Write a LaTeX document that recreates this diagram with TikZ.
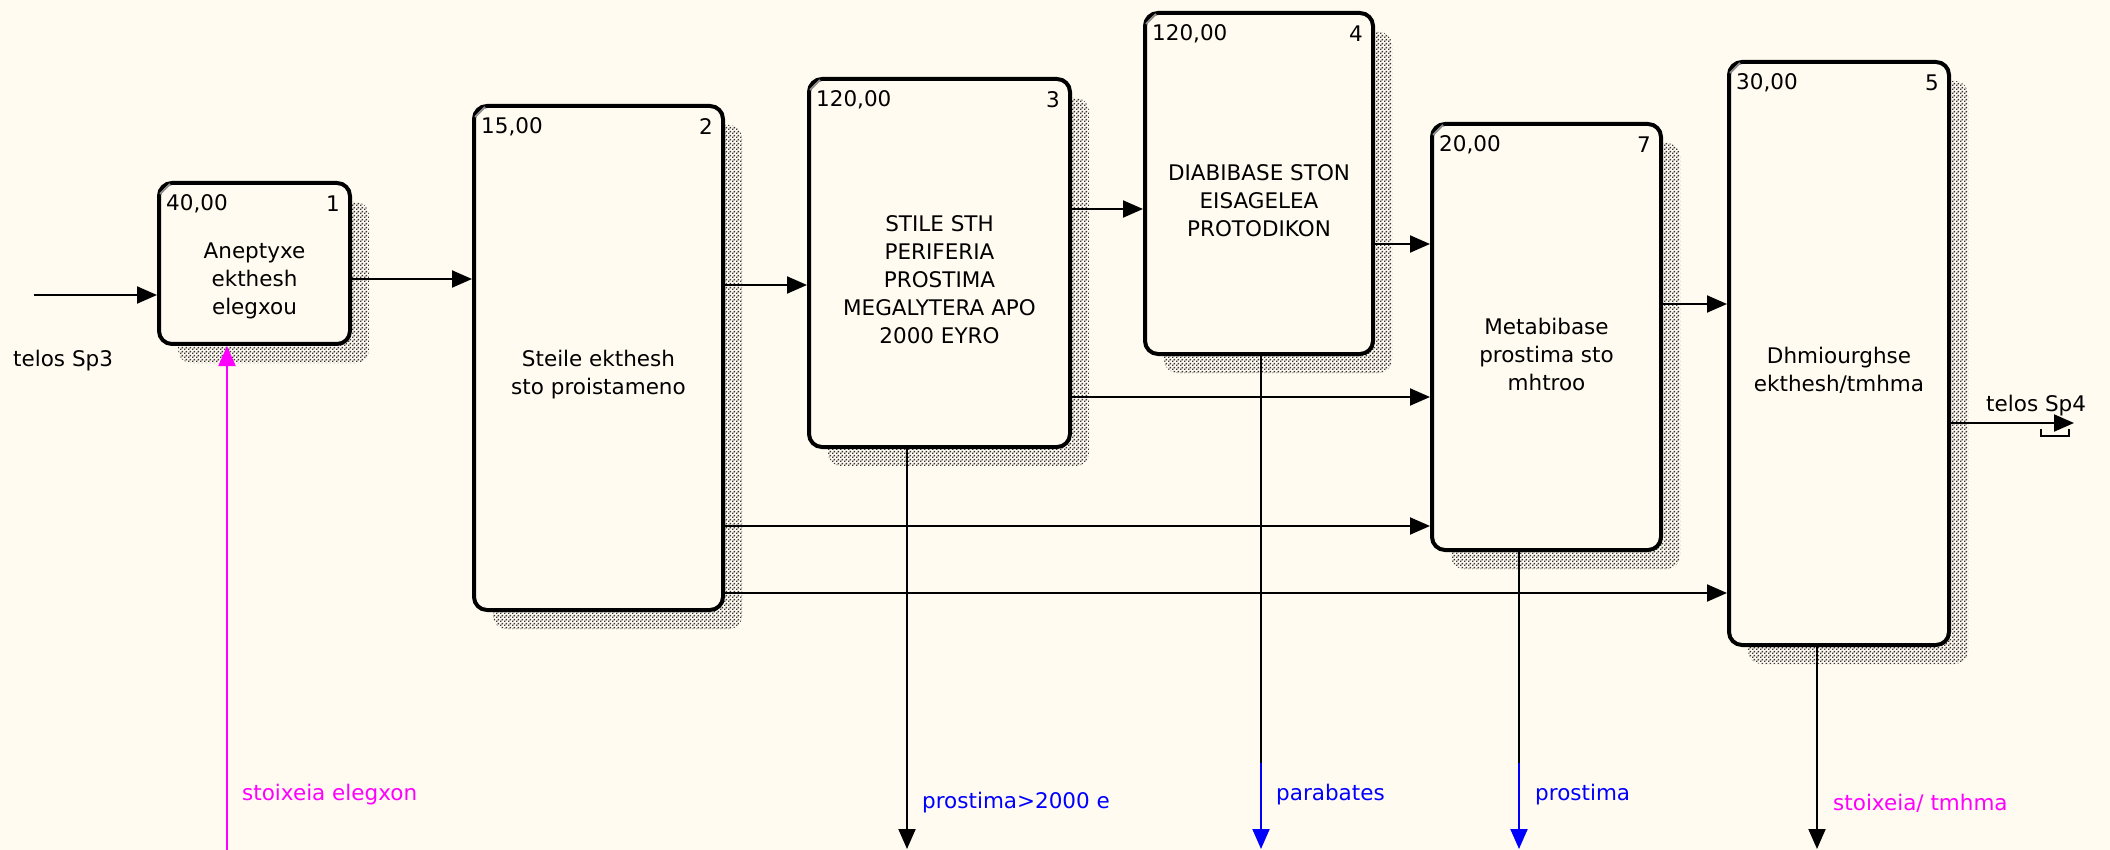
\documentclass[tikz,border=0pt]{standalone}
\usepackage{fontspec}
\setmainfont{DejaVu Sans}
\usetikzlibrary{arrows.meta,shadows,patterns}
\definecolor{bg}{RGB}{255,251,240}
\definecolor{mag}{RGB}{255,0,255}
\definecolor{blu}{RGB}{0,0,255}
\pgfdeclarepatternformonly{shdots}{\pgfpointorigin}{\pgfqpoint{4pt}{4pt}}{\pgfqpoint{4pt}{4pt}}{%
  \pgfpathrectangle{\pgfpointorigin}{\pgfqpoint{1.8pt}{1.8pt}}%
  \pgfpathrectangle{\pgfqpoint{2pt}{2pt}}{\pgfqpoint{1.8pt}{1.8pt}}%
  \pgfusepath{fill}}
\begin{document}
\begin{tikzpicture}[x=1pt,y=-1pt,
  font=\fontsize{21.5}{28}\selectfont,
  box/.style={draw=black, line width=4pt, rounded corners=13pt, fill=bg, inner sep=0pt,
    general shadow={shadow xshift=19pt, shadow yshift=-19pt, pattern=shdots, pattern color=black!80}},
  txt/.style={align=center, inner sep=0pt},
  num/.style={inner sep=0pt},
  conn/.style={line width=2pt, -{Triangle[length=20pt,width=17pt]}},
  plain/.style={line width=2pt},
  lbl/.style={inner sep=0pt, anchor=west},
  corner/.style={black!45, line width=2pt}]
\fill[bg] (0,0) rectangle (2110,850);
\useasboundingbox (0,0) rectangle (2110,850);

% boxes
\node[box, minimum width=191pt, minimum height=161pt] (b1) at (254.5,263.5) {};
\node[box, minimum width=249pt, minimum height=504pt] (b2) at (598.5,358) {};
\node[box, minimum width=261pt, minimum height=368pt] (b3) at (939.5,263) {};
\node[box, minimum width=228pt, minimum height=341pt] (b4) at (1259,183.5) {};
\node[box, minimum width=229pt, minimum height=426pt] (b7) at (1546.5,337) {};
\node[box, minimum width=220pt, minimum height=583pt] (b5) at (1839,353.5) {};

\foreach \b in {b1,b2,b3,b4,b7,b5}
  \draw[corner] ([shift={(3,13)}]\b.north west) -- ([shift={(13,3)}]\b.north west);

% texts
\node[txt] (t1) at ([yshift=-17pt]b1.center) {Aneptyxe\\ekthesh\\elegxou};
\node[txt] (t2) at ([yshift=-17pt]b2.center) {Steile ekthesh\\sto proistameno};
\node[txt] (t3) at ([yshift=-17pt]b3.center) {STILE STH\\PERIFERIA\\PROSTIMA\\MEGALYTERA APO\\2000 EYRO};
\node[txt] (t4) at ([yshift=-17pt]b4.center) {DIABIBASE STON\\EISAGELEA\\PROTODIKON};
\node[txt] (t7) at ([yshift=-17pt]b7.center) {Metabibase\\prostima sto\\mhtroo};
\node[txt] (t5) at ([yshift=-17pt]b5.center) {Dhmiourghse\\ekthesh/tmhma};

% cost and number
\node[num, anchor=west] (c1) at ([shift={(9,23)}]b1.north west) {40,00};
\node[num, anchor=east] (n1) at ([shift={(-12,23)}]b1.north east) {1};
\node[num, anchor=west] (c2) at ([shift={(9,23)}]b2.north west) {15,00};
\node[num, anchor=east] (n2) at ([shift={(-12,23)}]b2.north east) {2};
\node[num, anchor=west] (c3) at ([shift={(9,23)}]b3.north west) {120,00};
\node[num, anchor=east] (n3) at ([shift={(-12,23)}]b3.north east) {3};
\node[num, anchor=west] (c4) at ([shift={(9,23)}]b4.north west) {120,00};
\node[num, anchor=east] (n4) at ([shift={(-12,23)}]b4.north east) {4};
\node[num, anchor=west] (c7) at ([shift={(9,23)}]b7.north west) {20,00};
\node[num, anchor=east] (n7) at ([shift={(-12,23)}]b7.north east) {7};
\node[num, anchor=west] (c5) at ([shift={(9,23)}]b5.north west) {30,00};
\node[num, anchor=east] (n5) at ([shift={(-12,23)}]b5.north east) {5};

% row coordinates
\coordinate (in) at (34,295);
\coordinate (r12) at (0,279);
\coordinate (r23) at (0,285);
\coordinate (r27) at (0,526);
\coordinate (r25) at (0,593);
\coordinate (r34) at (0,209);
\coordinate (r37) at (0,397);
\coordinate (r47) at (0,244);
\coordinate (r75) at (0,304);
\coordinate (out) at (2074,423);

\draw[conn] (in) -- (b1.west |- in);
\draw[conn] (b1.east |- r12) -- (b2.west |- r12);
\draw[conn] (b2.east |- r23) -- (b3.west |- r23);
\draw[conn] (b2.east |- r27) -- (b7.west |- r27);
\draw[conn] (b2.east |- r25) -- (b5.west |- r25);
\draw[conn] (b3.east |- r34) -- (b4.west |- r34);
\draw[conn] (b3.east |- r37) -- (b7.west |- r37);
\draw[conn] (b4.east |- r47) -- (b7.west |- r47);
\draw[conn] (b7.east |- r75) -- (b5.west |- r75);
\draw[conn] (b5.east |- out) -- (out);
\draw[line width=1.5pt] (2041,429) -- (2041,436) -- (2069,436) -- (2069,429);

% bottom arrows
\coordinate (cb) at (227,850);
\draw[conn, mag] (cb) -- (cb |- b1.south);
\coordinate (x3) at (907,849);
\draw[conn] (x3 |- b3.south) -- (x3);
\coordinate (x4) at (1261,849);
\coordinate (m4) at (1261,763);
\draw[plain] (x4 |- b4.south) -- (m4);
\draw[conn, blu] (m4) -- (x4);
\coordinate (x7) at (1519,849);
\coordinate (m7) at (1519,763);
\draw[plain] (x7 |- b7.south) -- (m7);
\draw[conn, blu] (m7) -- (x7);
\coordinate (x5) at (1817,849);
\draw[conn] (x5 |- b5.south) -- (x5);

% labels
\node[lbl] (l1) at (13,361) {telos Sp3};
\node[lbl] (l2) at (1986,406) {telos Sp4};
\node[lbl, text=mag] (l3) at (242,795) {stoixeia elegxon};
\node[lbl, text=blu] (l4) at (922,803) {prostima>2000 e};
\node[lbl, text=blu] (l5) at (1276,795) {parabates};
\node[lbl, text=blu] (l6) at (1535,795) {prostima};
\node[lbl, text=mag] (l7) at (1833,803) {stoixeia/ tmhma};
\end{tikzpicture}
\end{document}
